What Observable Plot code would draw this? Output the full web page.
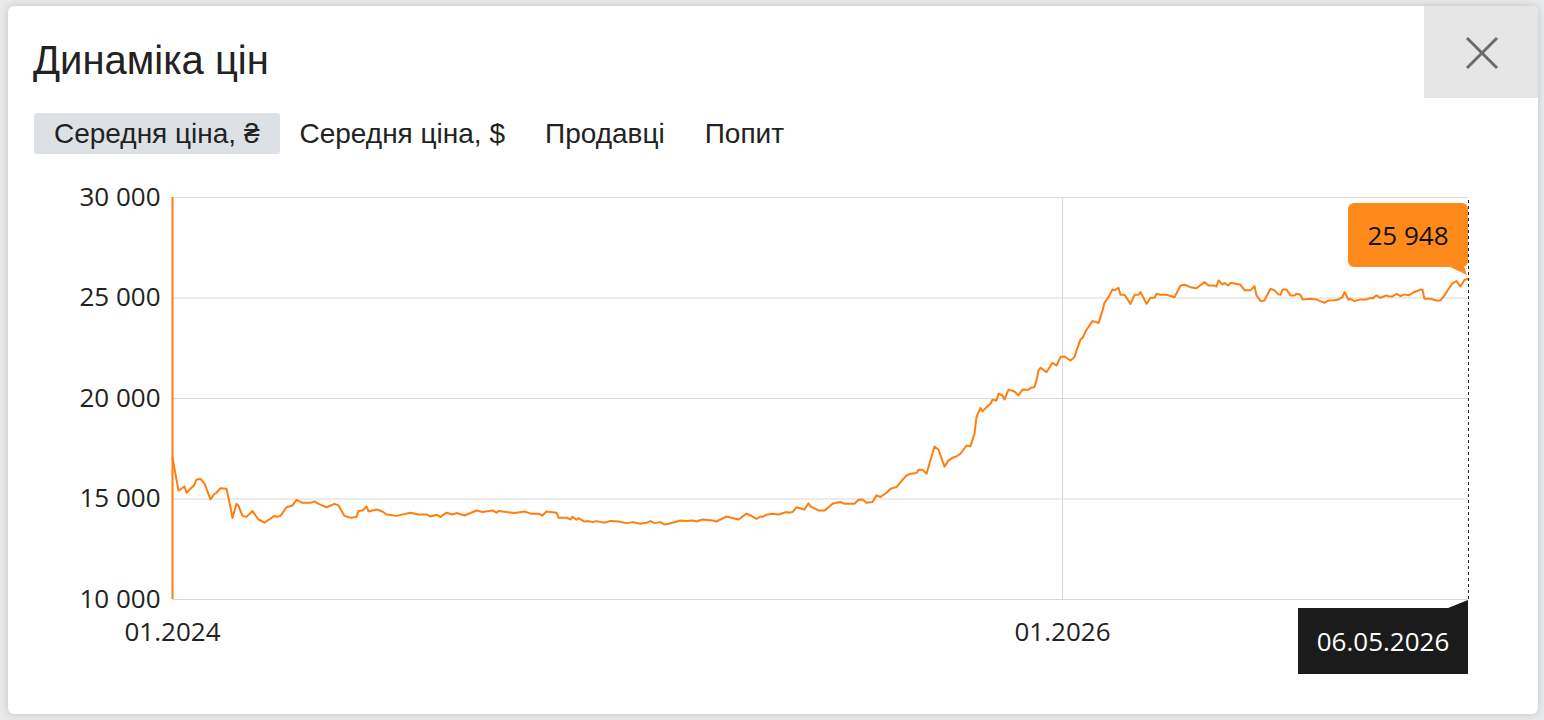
<!DOCTYPE html>
<html>
<head>
<meta charset="utf-8">
<script src="https://cdn.jsdelivr.net/npm/d3@7"></script>
<script src="https://cdn.jsdelivr.net/npm/@observablehq/plot@0.6"></script>
<style>
  html, body { margin: 0; padding: 0; }
  body { width: 1544px; height: 720px; background: #e9eaeb; position: relative; overflow: hidden; font-family: "Liberation Sans", Arial, sans-serif; }
  #card { position: absolute; left: 8px; top: 6px; width: 1530px; height: 708px; background: #fff; border-radius: 6px; box-shadow: 0 0 8px rgba(0,0,0,0.18); overflow: hidden; }
  #close { position: absolute; left: 1416px; top: 0; width: 116px; height: 92px; background: #e6e6e6; }
  #title { position: absolute; left: 25px; top: 31px; font-size: 40px; line-height: 46px; color: #222; white-space: nowrap; }
  #tabs { position: absolute; left: 26px; top: 107px; display: flex; }
  .tab { height: 41px; line-height: 41px; font-size: 28px; color: #222; white-space: nowrap; padding: 0 20px; border-radius: 3px; }
  .tab.active { background: #dde1e5; }
  #chart { position: absolute; left: 0; top: 180px; }
  .tip { position: absolute; font-family: "Open Sans", sans-serif; font-size: 26px; text-align: center; white-space: nowrap; }
</style>
</head>
<body>
<div id="card">
  <div id="title">Динаміка цін</div>
  <div id="close">
    <svg width="116" height="92"><g stroke="#6b6b6b" stroke-width="3"><line x1="43" y1="32" x2="73" y2="62"/><line x1="73" y1="32" x2="43" y2="62"/></g></svg>
  </div>
  <div id="tabs"></div>
</div>
<div id="chart"></div>
<div id="overlay"></div>
<script>
// ---- data ----
const tabs = ["Середня ціна, ₴", "Середня ціна, $", "Продавці", "Попит"];
const activeTab = 0;

// observation number (sequence of the series) and average price, ₴
const obs = [0,3,6,7,11,12,14,16,19,21,22,24,27,29,30,32,33,35,37,40,43,46,51,52,54,57,60,62,65,69,71,73,77,81,83,86,89,92,93,95,97,98,102,105,107,112,119,123,127,129,132,134,137,140,142,146,152,155,160,162,163,171,176,179,183,185,187,192,193,197,199,200,202,203,206,208,210,212,216,219,223,227,230,234,237,239,241,244,246,248,254,257,260,262,265,270,272,277,283,287,289,292,294,295,297,300,303,307,308,310,312,316,318,319,323,326,327,330,332,334,336,341,343,345,347,350,352,354,357,359,362,364,367,369,372,373,375,377,381,383,386,388,390,392,394,397,399,401,402,404,405,407,409,410,412,413,415,416,418,421,423,425,428,429,431,432,433,434,437,440,442,444,446,449,451,452,454,455,457,460,462,463,465,466,468,470,471,473,474,476,479,481,483,484,487,489,491,492,494,497,501,504,506,509,512,515,516,518,521,522,523,525,526,528,529,534,536,539,541,542,544,546,549,551,553,554,555,557,559,561,562,564,565,569,572,573,576,578,581,583,585,586,588,589,591,594,597,599,600,602,604,607,608,610,612,614,616,618,621,624,625,626,629,632,634,636,637,640,642,644,646,648];
const price = [17050,15420,15620,15310,15710,15970,16000,15760,14980,15260,15310,15540,15510,14590,14050,14760,14660,14160,14110,14400,13980,13820,14160,14110,14160,14590,14680,14960,14810,14810,14880,14760,14590,14760,14680,14160,14070,14110,14400,14430,14630,14380,14480,14380,14230,14160,14320,14230,14230,14130,14220,14110,14320,14230,14300,14180,14430,14350,14430,14320,14400,14300,14380,14270,14270,14180,14380,14320,14070,14070,13980,14110,13970,14050,13880,13900,13850,13900,13820,13910,13880,13800,13850,13770,13820,13900,13800,13850,13730,13770,13930,13900,13930,13880,13980,13930,13880,14130,13980,14270,14180,14010,14130,14110,14220,14270,14230,14350,14320,14350,14590,14480,14790,14630,14430,14430,14510,14760,14810,14850,14760,14760,14960,14980,14810,14850,15180,15100,15310,15510,15590,15840,16170,16260,16290,16460,16460,16260,17610,17450,16610,16920,17050,17120,17250,17660,17630,18250,19080,19530,19360,19570,19740,19940,19900,20240,20150,19950,20440,20350,20150,20450,20440,20520,20570,20900,21400,21530,21310,21780,21640,22060,22090,21890,22060,22390,22940,23010,23420,23850,23800,23750,24380,24760,25040,25430,25380,25510,25160,25160,24710,25160,25160,25300,24710,25010,25010,25210,25160,25160,25040,25620,25660,25540,25490,25710,25790,25620,25620,25570,25870,25670,25740,25620,25760,25660,25380,25380,25590,25130,24850,24880,25460,25380,25180,25160,25420,25420,25130,25130,25210,25160,24930,24960,24930,24880,24760,24880,24890,24930,25040,25300,24910,24960,24850,24930,24930,25000,24980,25130,25010,25130,25080,25080,25210,25090,25180,25130,25300,25420,25400,24960,24960,24880,24880,25130,25300,25740,25840,25570,25910,25948];

const yTicks = [10000, 15000, 20000, 25000, 30000];
const xTicks = [0, 445];
const xTickLabels = ["01.2024", "01.2026"];
const lastDateLabel = "06.05.2026";

// ---- build ----
const tabsEl = document.getElementById("tabs");
tabs.forEach((t, i) => {
  const d = document.createElement("div");
  d.className = "tab" + (i === activeTab ? " active" : "");
  d.textContent = t;
  tabsEl.appendChild(d);
});

const data = obs.map((o, i) => ({obs: o, price: price[i]}));
const fmt = d3.formatLocale({decimal: ",", thousands: "\u00a0", grouping: [3], currency: ["", ""]}).format(",d");
const orange = "#ff7f0e";
const lastObs = obs[obs.length - 1];
const lastPrice = price[price.length - 1];

const plot = Plot.plot({
  width: 1544,
  height: 500,
  marginLeft: 172,
  marginRight: 76,
  marginTop: 17,
  marginBottom: 81,
  x: {type: "linear", domain: [0, lastObs], label: null},
  y: {domain: [10000, 30000], label: null},
  style: {fontFamily: "'Open Sans', sans-serif", fontSize: "26px", color: "#222", background: "transparent", overflow: "visible"},
  marks: [
    Plot.gridY(yTicks, {stroke: "#d9d9d9", strokeOpacity: 1}),
    Plot.gridX([xTicks[1]], {stroke: "#d9d9d9", strokeOpacity: 1}),
    Plot.axisY(yTicks, {tickSize: 0, tickPadding: 12, tickFormat: fmt, fill: "#222", label: null}),
    Plot.axisX(xTicks, {tickSize: 0, tickPadding: 23, tickFormat: d => xTickLabels[xTicks.indexOf(d)], fill: "#222", label: null}),
    Plot.ruleX([xTicks[0]], {y1: 10000, y2: 30000, stroke: orange, strokeWidth: 2}),
    Plot.line(data, {x: "obs", y: "price", stroke: orange, strokeWidth: 2}),
    Plot.ruleX([lastObs], {y1: 10000, y2: 30000, stroke: "#222", strokeWidth: 1, strokeDasharray: "3,3"})
  ]
});
document.getElementById("chart").appendChild(plot);

// tooltips anchored at the last point through the plot scales
const sx = plot.scale("x"), sy = plot.scale("y");
const chartTop = 180;
const px = sx.apply(lastObs);
const py = sy.apply(lastPrice) + chartTop;
const bottom = sy.apply(10000) + chartTop;
const ov = document.getElementById("overlay");
ov.innerHTML = `
  <div class="tip" style="left:${px - 120}px; top:${py - 75}px; width:120px; height:64px; line-height:64px; background:#ff8a1c; color:#111; border-radius:6px;">${fmt(lastPrice)}</div>
  <svg style="position:absolute; left:${px - 24}px; top:${py - 12}px;" width="26" height="12"><polygon points="4,0 20,0 23,9" fill="#ff8a1c"/></svg>
  <div class="tip" style="left:${px - 170}px; top:${bottom + 9}px; width:170px; height:66px; line-height:66px; background:#1b1b1b; color:#fff;">${lastDateLabel}</div>
  <svg style="position:absolute; left:${px - 20}px; top:${bottom + 1}px;" width="20" height="9"><polygon points="0,8 20,8 20,0" fill="#1b1b1b"/></svg>
`;
</script>
</body>
</html>
